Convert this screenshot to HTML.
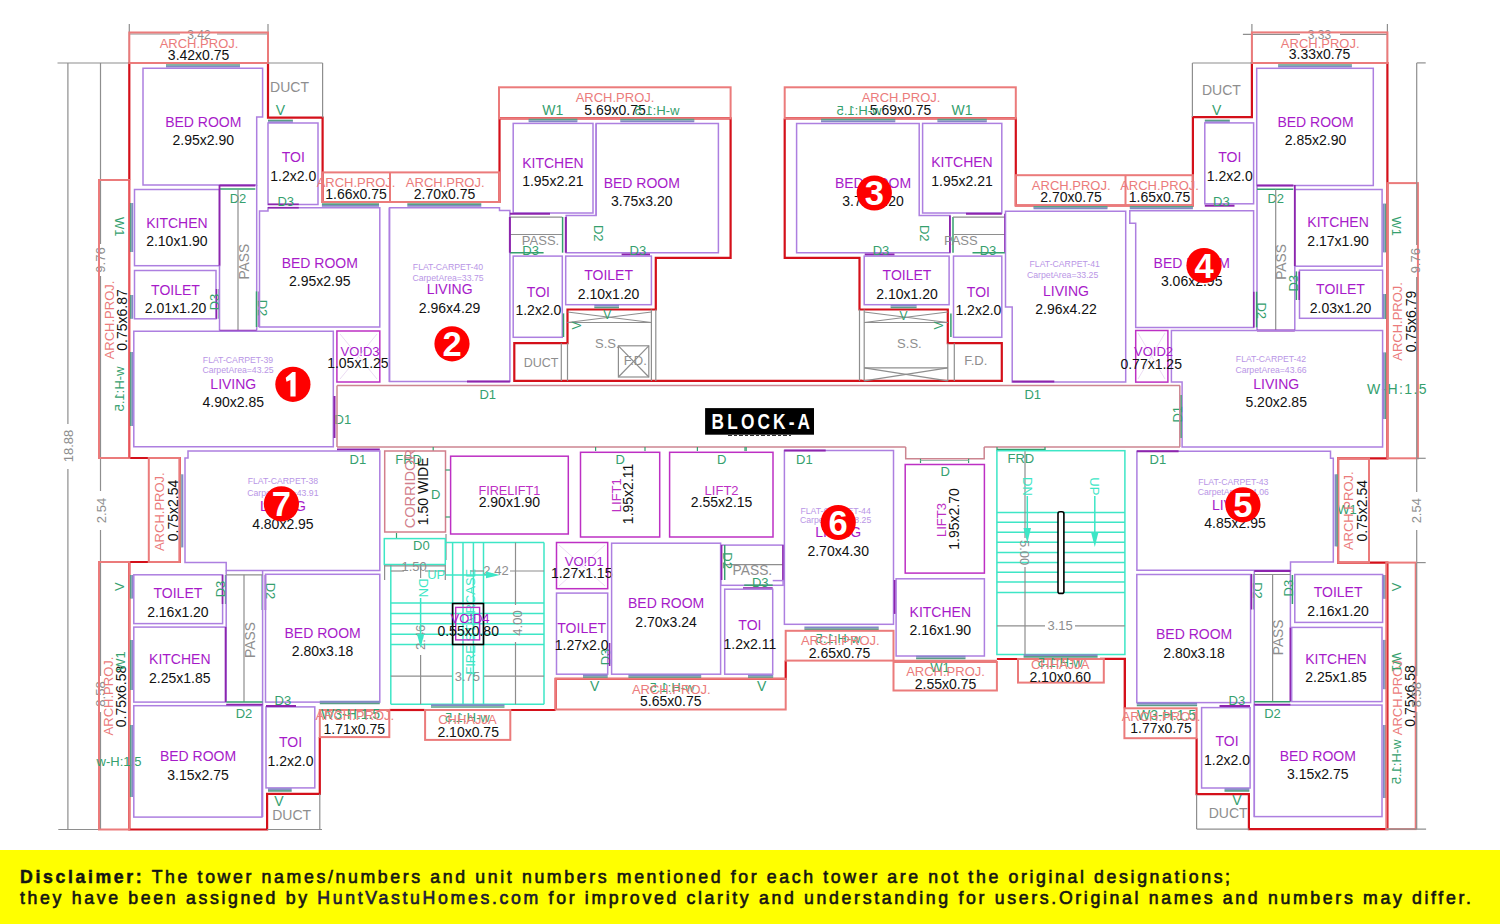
<!DOCTYPE html>
<html><head><meta charset="utf-8"><style>
html,body{margin:0;padding:0;background:#fff;}
body{width:1500px;height:924px;overflow:hidden;position:relative;font-family:"Liberation Sans",sans-serif;}
svg{position:absolute;left:0;top:0;}
svg text{font-family:"Liberation Sans",sans-serif;}
#disc{position:absolute;left:0;top:850px;width:1500px;height:74px;background:#ffff00;}
#disc p{margin:0;position:absolute;left:20px;font-size:17.7px;line-height:20px;color:#141414;white-space:nowrap;letter-spacing:2.64px;font-weight:normal;-webkit-text-stroke:0.6px #141414;}
</style></head><body>
<svg width="1500" height="850" viewBox="0 0 1500 850">
<polyline points="322.6,172.4 322.6,117.6 268.0,117.6 268.0,63.0 129.3,63.0 129.3,180.0" fill="none" stroke="#d4101a" stroke-width="2.2" stroke-linejoin="miter"/>
<polyline points="129.3,458.0 179.8,458.0 179.8,562.0 129.3,562.0 129.3,829.5 267.1,829.5 267.1,793.8 319.8,793.8 319.8,737.1" fill="none" stroke="#d4101a" stroke-width="2.2" stroke-linejoin="miter"/>
<line x1="389.3" y1="710.0" x2="400.0" y2="710.0" stroke="#d4101a" stroke-width="2.2"/>
<polyline points="322.6,172.4 322.6,202.0 499.5,202.0 499.5,118.4 730.6,118.4 730.6,257.9 655.8,257.9 655.8,309.5 567.5,309.5 567.5,343.2 514.3,343.2 514.3,380.9 862.0,380.9" fill="none" stroke="#d4101a" stroke-width="2.2" stroke-linejoin="miter"/>
<polyline points="784.7,118.4 1015.8,118.4 1015.8,205.5 1192.9,205.5 1192.9,117.1 1251.9,117.1 1251.9,63.0 1387.4,63.0 1387.4,458.3 1338.1,458.3 1338.1,562.6 1387.4,562.6 1387.4,829.1 1248.9,829.1 1248.9,794.2 1196.6,794.2 1196.6,738.2" fill="none" stroke="#d4101a" stroke-width="2.2" stroke-linejoin="miter"/>
<polyline points="784.7,118.4 784.7,257.9 859.5,257.9 859.5,309.5 947.8,309.5 947.8,343.2 1001.8,343.2 1001.8,380.9 860.0,380.9" fill="none" stroke="#d4101a" stroke-width="2.2" stroke-linejoin="miter"/>
<polyline points="1100.0,658.8 1124.9,658.8 1124.9,708.3" fill="none" stroke="#d4101a" stroke-width="2.2" stroke-linejoin="miter"/>
<line x1="400.0" y1="710.0" x2="424.5" y2="710.0" stroke="#d4101a" stroke-width="2.2"/>
<line x1="510.3" y1="710.0" x2="555.7" y2="710.0" stroke="#d4101a" stroke-width="2.2"/>
<polyline points="555.7,710.0 555.7,678.8 785.7,678.8 785.7,660.6" fill="none" stroke="#d4101a" stroke-width="2.2" stroke-linejoin="miter"/>
<line x1="996.9" y1="659.0" x2="1124.9" y2="659.0" stroke="#d4101a" stroke-width="2.2"/>
<line x1="1124.9" y1="659.0" x2="1124.9" y2="708.3" stroke="#d4101a" stroke-width="2.2"/>
<line x1="129.3" y1="24.0" x2="129.3" y2="63.0" stroke="#8e8e8e" stroke-width="1.2"/>
<line x1="268.0" y1="24.0" x2="268.0" y2="63.0" stroke="#8e8e8e" stroke-width="1.2"/>
<line x1="129.3" y1="34.0" x2="180.0" y2="34.0" stroke="#8e8e8e" stroke-width="1.2"/>
<line x1="217.0" y1="34.0" x2="268.0" y2="34.0" stroke="#8e8e8e" stroke-width="1.2"/>
<text x="199.0" y="38.5" fill="#8e8e8e" font-size="12" text-anchor="middle" font-weight="normal">3.42</text>
<line x1="57.5" y1="63.0" x2="129.3" y2="63.0" stroke="#8e8e8e" stroke-width="1.2"/>
<line x1="67.9" y1="63.0" x2="67.9" y2="424.0" stroke="#8e8e8e" stroke-width="1.2"/>
<line x1="67.9" y1="469.0" x2="67.9" y2="829.5" stroke="#8e8e8e" stroke-width="1.2"/>
<text x="72.5" y="446.0" fill="#8e8e8e" font-size="13" text-anchor="middle" font-weight="normal" transform="rotate(-90 72.5 446.0)">18.88</text>
<line x1="100.5" y1="63.0" x2="100.5" y2="244.0" stroke="#8e8e8e" stroke-width="1.2"/>
<line x1="100.5" y1="276.0" x2="100.5" y2="491.0" stroke="#8e8e8e" stroke-width="1.2"/>
<line x1="100.5" y1="530.0" x2="100.5" y2="676.0" stroke="#8e8e8e" stroke-width="1.2"/>
<line x1="100.5" y1="712.0" x2="100.5" y2="829.5" stroke="#8e8e8e" stroke-width="1.2"/>
<text x="105.0" y="260.0" fill="#8e8e8e" font-size="13" text-anchor="middle" font-weight="normal" transform="rotate(-90 105.0 260.0)">9.76</text>
<text x="105.5" y="510.5" fill="#8e8e8e" font-size="13" text-anchor="middle" font-weight="normal" transform="rotate(-90 105.5 510.5)">2.54</text>
<text x="105.0" y="694.0" fill="#8e8e8e" font-size="13" text-anchor="middle" font-weight="normal" transform="rotate(-90 105.0 694.0)">8.58</text>
<line x1="58.3" y1="829.5" x2="129.3" y2="829.5" stroke="#8e8e8e" stroke-width="1.2"/>
<rect x="99.0" y="180.0" width="30.3" height="278.0" fill="none" stroke="#eb7b7b" stroke-width="2"/>
<rect x="99.0" y="562.0" width="30.3" height="267.5" fill="none" stroke="#eb7b7b" stroke-width="2"/>
<text x="114.2" y="320.0" fill="#eb7b7b" font-size="13" text-anchor="middle" font-weight="normal" transform="rotate(-90 114.2 320.0)">ARCH.PROJ.</text>
<text x="127.2" y="320.0" fill="#111111" font-size="14" text-anchor="middle" font-weight="normal" transform="rotate(-90 127.2 320.0)">0.75x6.87</text>
<text x="114.5" y="226.7" fill="#35a06e" font-size="13" text-anchor="middle" font-weight="normal" transform="rotate(90 114.5 226.7)">W1</text>
<text transform="translate(119.3 389.0) scale(-1 1) rotate(90)" x="0" y="4.7" fill="#35a06e" font-size="13" text-anchor="middle">w-H:1.5</text>
<text x="113.0" y="696.0" fill="#eb7b7b" font-size="13" text-anchor="middle" font-weight="normal" transform="rotate(-90 113.0 696.0)">ARCH.PROJ.</text>
<text x="126.3" y="696.5" fill="#111111" font-size="14" text-anchor="middle" font-weight="normal" transform="rotate(-90 126.3 696.5)">0.75x6.58</text>
<text x="124.5" y="661.0" fill="#35a06e" font-size="13" text-anchor="middle" font-weight="normal" transform="rotate(-90 124.5 661.0)">W1</text>
<text x="119.0" y="766.0" fill="#35a06e" font-size="13" text-anchor="middle" font-weight="normal">w-H:1.5</text>
<text x="123.6" y="586.7" fill="#35a06e" font-size="13" text-anchor="middle" font-weight="normal" transform="rotate(-90 123.6 586.7)">V</text>
<rect x="129.3" y="32.5" width="138.7" height="30.5" fill="none" stroke="#eb7b7b" stroke-width="2"/>
<text x="199.0" y="48.0" fill="#eb7b7b" font-size="13" text-anchor="middle" font-weight="normal">ARCH.PROJ.</text>
<text x="198.6" y="60.0" fill="#111111" font-size="14" text-anchor="middle" font-weight="normal">3.42x0.75</text>
<polyline points="129.3,180.0 129.3,458.0" fill="none" stroke="#e8545a" stroke-width="2" stroke-linejoin="miter"/>
<line x1="268.0" y1="63.0" x2="322.6" y2="63.0" stroke="#8e8e8e" stroke-width="1.2"/>
<line x1="322.6" y1="63.0" x2="322.6" y2="117.6" stroke="#8e8e8e" stroke-width="1.2"/>
<text x="289.5" y="91.7" fill="#8e8e8e" font-size="14" text-anchor="middle" font-weight="normal">DUCT</text>
<text x="280.4" y="115.0" fill="#35a06e" font-size="14" text-anchor="middle" font-weight="normal">V</text>
<line x1="166.0" y1="65.0" x2="240.0" y2="65.0" stroke="#5a9f86" stroke-width="1.7"/>
<line x1="166.0" y1="66.6" x2="240.0" y2="66.6" stroke="#8489c6" stroke-width="1.7"/>
<line x1="130.8" y1="203.0" x2="130.8" y2="252.0" stroke="#5a9f86" stroke-width="1.7"/>
<line x1="132.4" y1="203.0" x2="132.4" y2="252.0" stroke="#8489c6" stroke-width="1.7"/>
<line x1="130.8" y1="295.0" x2="130.8" y2="318.8" stroke="#5a9f86" stroke-width="1.7"/>
<line x1="132.4" y1="295.0" x2="132.4" y2="318.8" stroke="#8489c6" stroke-width="1.7"/>
<line x1="130.8" y1="352.0" x2="130.8" y2="426.0" stroke="#5a9f86" stroke-width="1.7"/>
<line x1="132.4" y1="352.0" x2="132.4" y2="426.0" stroke="#8489c6" stroke-width="1.7"/>
<line x1="180.8" y1="474.3" x2="180.8" y2="547.4" stroke="#5a9f86" stroke-width="1.7"/>
<line x1="182.5" y1="474.3" x2="182.5" y2="547.4" stroke="#8489c6" stroke-width="1.7"/>
<line x1="130.8" y1="575.0" x2="130.8" y2="598.6" stroke="#5a9f86" stroke-width="1.7"/>
<line x1="132.4" y1="575.0" x2="132.4" y2="598.6" stroke="#8489c6" stroke-width="1.7"/>
<line x1="130.8" y1="640.0" x2="130.8" y2="690.0" stroke="#5a9f86" stroke-width="1.7"/>
<line x1="132.4" y1="640.0" x2="132.4" y2="690.0" stroke="#8489c6" stroke-width="1.7"/>
<line x1="130.8" y1="725.0" x2="130.8" y2="797.0" stroke="#5a9f86" stroke-width="1.7"/>
<line x1="132.4" y1="725.0" x2="132.4" y2="797.0" stroke="#8489c6" stroke-width="1.7"/>
<line x1="268.0" y1="120.5" x2="292.9" y2="120.5" stroke="#5a9f86" stroke-width="1.7"/>
<line x1="268.0" y1="122.1" x2="292.9" y2="122.1" stroke="#8489c6" stroke-width="1.7"/>
<line x1="321.9" y1="204.2" x2="379.0" y2="204.2" stroke="#5a9f86" stroke-width="1.7"/>
<line x1="321.9" y1="205.8" x2="379.0" y2="205.8" stroke="#8489c6" stroke-width="1.7"/>
<line x1="407.3" y1="204.2" x2="481.3" y2="204.2" stroke="#5a9f86" stroke-width="1.7"/>
<line x1="407.3" y1="205.8" x2="481.3" y2="205.8" stroke="#8489c6" stroke-width="1.7"/>
<polygon points="143.0,68.3 262.6,68.3 262.6,117.0 256.7,117.0 256.7,185.0 143.0,185.0" fill="none" stroke="#ad7fe0" stroke-width="1.5" stroke-linejoin="miter"/>
<line x1="219.5" y1="185.6" x2="255.3" y2="185.6" stroke="#8d25ad" stroke-width="2"/>
<line x1="219.5" y1="189.0" x2="255.3" y2="189.0" stroke="#35a06e" stroke-width="1.5"/>
<text x="238.0" y="203.0" fill="#35a06e" font-size="13" text-anchor="middle" font-weight="normal">D2</text>
<text x="203.3" y="126.7" fill="#a71bc9" font-size="14" text-anchor="middle" font-weight="normal">BED ROOM</text>
<text x="203.3" y="145.2" fill="#111111" font-size="14" text-anchor="middle" font-weight="normal">2.95x2.90</text>
<rect x="134.5" y="189.5" width="85.0" height="76.2" fill="none" stroke="#ad7fe0" stroke-width="1.5"/>
<line x1="219.5" y1="185.0" x2="219.5" y2="265.7" stroke="#8d25ad" stroke-width="1.8"/>
<text x="176.9" y="227.5" fill="#a71bc9" font-size="14" text-anchor="middle" font-weight="normal">KITCHEN</text>
<text x="176.9" y="246.0" fill="#111111" font-size="14" text-anchor="middle" font-weight="normal">2.10x1.90</text>
<rect x="134.5" y="270.5" width="81.5" height="48.3" fill="none" stroke="#ad7fe0" stroke-width="1.5"/>
<text x="175.5" y="294.5" fill="#a71bc9" font-size="14" text-anchor="middle" font-weight="normal">TOILET</text>
<text x="175.5" y="313.0" fill="#111111" font-size="14" text-anchor="middle" font-weight="normal">2.01x1.20</text>
<line x1="219.2" y1="289.0" x2="219.2" y2="318.8" stroke="#35a06e" stroke-width="1.5"/>
<line x1="216.5" y1="289.0" x2="216.5" y2="318.8" stroke="#8d25ad" stroke-width="1.6"/>
<text x="219.0" y="302.0" fill="#35a06e" font-size="13" text-anchor="middle" font-weight="normal" transform="rotate(-90 219.0 302.0)">D3</text>
<line x1="219.5" y1="265.7" x2="219.5" y2="330.7" stroke="#ad7fe0" stroke-width="1.5"/>
<line x1="256.7" y1="185.0" x2="256.7" y2="330.7" stroke="#ad7fe0" stroke-width="1.5"/>
<line x1="238.0" y1="189.5" x2="238.0" y2="330.7" stroke="#8e8e8e" stroke-width="1.2"/>
<text x="248.7" y="261.7" fill="#8e8e8e" font-size="13.8" text-anchor="middle" font-weight="normal" transform="rotate(-90 248.7 261.7)">PASS</text>
<line x1="219.5" y1="330.7" x2="256.7" y2="330.7" stroke="#8d25ad" stroke-width="2"/>
<line x1="256.5" y1="291.4" x2="256.5" y2="327.0" stroke="#35a06e" stroke-width="1.5"/>
<line x1="259.2" y1="291.4" x2="259.2" y2="327.0" stroke="#8d25ad" stroke-width="1.6"/>
<text x="257.9" y="308.0" fill="#35a06e" font-size="13" text-anchor="middle" font-weight="normal" transform="rotate(90 257.9 308.0)">D2</text>
<polygon points="259.5,210.9 268.0,210.9 268.0,207.7 379.8,207.7 379.8,327.0 259.5,327.0" fill="none" stroke="#ad7fe0" stroke-width="1.5" stroke-linejoin="miter"/>
<text x="319.8" y="267.6" fill="#a71bc9" font-size="14" text-anchor="middle" font-weight="normal">BED ROOM</text>
<text x="319.8" y="286.1" fill="#111111" font-size="14" text-anchor="middle" font-weight="normal">2.95x2.95</text>
<rect x="268.0" y="123.0" width="50.0" height="81.5" fill="none" stroke="#ad7fe0" stroke-width="1.5"/>
<text x="293.3" y="162.4" fill="#a71bc9" font-size="14" text-anchor="middle" font-weight="normal">TOI</text>
<text x="293.3" y="180.9" fill="#111111" font-size="14" text-anchor="middle" font-weight="normal">1.2x2.0</text>
<line x1="268.0" y1="204.3" x2="298.8" y2="204.3" stroke="#8d25ad" stroke-width="1.6"/>
<line x1="268.0" y1="207.7" x2="298.8" y2="207.7" stroke="#8d25ad" stroke-width="1.6"/>
<text x="285.7" y="206.2" fill="#35a06e" font-size="13" text-anchor="middle" font-weight="normal">D3</text>
<polygon points="133.8,331.2 333.3,331.2 333.3,446.7 133.8,446.7" fill="none" stroke="#ad7fe0" stroke-width="1.5" stroke-linejoin="miter"/>
<text x="238.0" y="362.9" fill="#b996e6" font-size="8.7" text-anchor="middle" font-weight="normal">FLAT-CARPET-39</text>
<text x="238.0" y="373.0" fill="#b996e6" font-size="8.7" text-anchor="middle" font-weight="normal">CarpetArea=43.25</text>
<text x="233.3" y="388.6" fill="#a71bc9" font-size="14" text-anchor="middle" font-weight="normal">LIVING</text>
<text x="233.3" y="407.1" fill="#111111" font-size="14" text-anchor="middle" font-weight="normal">4.90x2.85</text>
<rect x="336.9" y="331.0" width="42.9" height="51.0" fill="none" stroke="#bd30c4" stroke-width="1.5"/>
<line x1="340.0" y1="334.0" x2="377.0" y2="379.0" stroke="#e6d2f0" stroke-width="0.8"/>
<line x1="377.0" y1="334.0" x2="340.0" y2="379.0" stroke="#e6d2f0" stroke-width="0.8"/>
<text x="360.0" y="355.7" fill="#a71bc9" font-size="13" text-anchor="middle" font-weight="normal">VO!D3</text>
<text x="357.9" y="368.3" fill="#111111" font-size="14" text-anchor="middle" font-weight="normal">1.05x1.25</text>
<line x1="389.3" y1="207.6" x2="389.3" y2="382.0" stroke="#ad7fe0" stroke-width="1.5"/>
<line x1="334.5" y1="396.0" x2="334.5" y2="438.0" stroke="#8d25ad" stroke-width="2"/>
<text x="342.9" y="423.6" fill="#35a06e" font-size="13" text-anchor="middle" font-weight="normal">D1</text>
<line x1="337.0" y1="449.6" x2="379.8" y2="449.6" stroke="#8d25ad" stroke-width="2"/>
<rect x="148.8" y="458.0" width="31.0" height="104.0" fill="none" stroke="#eb7b7b" stroke-width="2"/>
<text x="163.9" y="511.7" fill="#eb7b7b" font-size="13" text-anchor="middle" font-weight="normal" transform="rotate(-90 163.9 511.7)">ARCH.PROJ.</text>
<text x="177.6" y="510.5" fill="#111111" font-size="14" text-anchor="middle" font-weight="normal" transform="rotate(-90 177.6 510.5)">0.75x2.54</text>
<polygon points="185.0,458.0 188.0,458.0 188.0,451.0 379.8,451.0 379.8,570.5 226.2,570.5 226.2,562.4 185.0,562.4" fill="none" stroke="#ad7fe0" stroke-width="1.5" stroke-linejoin="miter"/>
<text x="282.9" y="484.3" fill="#b996e6" font-size="8.7" text-anchor="middle" font-weight="normal">FLAT-CARPET-38</text>
<text x="282.9" y="495.5" fill="#b996e6" font-size="8.7" text-anchor="middle" font-weight="normal">CarpetArea=43.91</text>
<text x="282.9" y="510.5" fill="#a71bc9" font-size="14" text-anchor="middle" font-weight="normal">LIVING</text>
<text x="282.9" y="529.0" fill="#111111" font-size="14" text-anchor="middle" font-weight="normal">4.80x2.95</text>
<text x="357.9" y="463.6" fill="#35a06e" font-size="13" text-anchor="middle" font-weight="normal">D1</text>
<rect x="133.8" y="574.8" width="88.8" height="48.8" fill="none" stroke="#ad7fe0" stroke-width="1.5"/>
<text x="177.9" y="598.0" fill="#a71bc9" font-size="14" text-anchor="middle" font-weight="normal">TOILET</text>
<text x="177.9" y="616.5" fill="#111111" font-size="14" text-anchor="middle" font-weight="normal">2.16x1.20</text>
<line x1="225.6" y1="575.0" x2="225.6" y2="604.0" stroke="#35a06e" stroke-width="1.5"/>
<line x1="222.5" y1="575.0" x2="222.5" y2="604.0" stroke="#8d25ad" stroke-width="1.6"/>
<text x="224.9" y="589.0" fill="#35a06e" font-size="13" text-anchor="middle" font-weight="normal" transform="rotate(-90 224.9 589.0)">D3</text>
<line x1="262.3" y1="575.0" x2="262.3" y2="610.0" stroke="#35a06e" stroke-width="1.5"/>
<line x1="265.4" y1="575.0" x2="265.4" y2="610.0" stroke="#8d25ad" stroke-width="1.6"/>
<text x="265.5" y="591.0" fill="#35a06e" font-size="13" text-anchor="middle" font-weight="normal" transform="rotate(90 265.5 591.0)">D2</text>
<line x1="226.2" y1="570.5" x2="226.2" y2="702.0" stroke="#ad7fe0" stroke-width="1.5"/>
<line x1="262.6" y1="570.5" x2="262.6" y2="817.0" stroke="#ad7fe0" stroke-width="1.5"/>
<line x1="244.0" y1="574.8" x2="244.0" y2="702.0" stroke="#8e8e8e" stroke-width="1.2"/>
<line x1="226.2" y1="574.8" x2="262.6" y2="574.8" stroke="#8e8e8e" stroke-width="1.2"/>
<text x="254.7" y="640.0" fill="#8e8e8e" font-size="13.8" text-anchor="middle" font-weight="normal" transform="rotate(-90 254.7 640.0)">PASS</text>
<rect x="265.5" y="574.3" width="114.3" height="127.8" fill="none" stroke="#ad7fe0" stroke-width="1.5"/>
<text x="322.6" y="637.9" fill="#a71bc9" font-size="14" text-anchor="middle" font-weight="normal">BED ROOM</text>
<text x="322.6" y="656.4" fill="#111111" font-size="14" text-anchor="middle" font-weight="normal">2.80x3.18</text>
<rect x="133.8" y="627.1" width="91.7" height="75.0" fill="none" stroke="#ad7fe0" stroke-width="1.5"/>
<text x="179.8" y="664.0" fill="#a71bc9" font-size="14" text-anchor="middle" font-weight="normal">KITCHEN</text>
<text x="179.8" y="682.5" fill="#111111" font-size="14" text-anchor="middle" font-weight="normal">2.25x1.85</text>
<rect x="133.8" y="705.7" width="128.1" height="111.4" fill="none" stroke="#ad7fe0" stroke-width="1.5"/>
<text x="198.0" y="761.0" fill="#a71bc9" font-size="14" text-anchor="middle" font-weight="normal">BED ROOM</text>
<text x="198.0" y="779.5" fill="#111111" font-size="14" text-anchor="middle" font-weight="normal">3.15x2.75</text>
<line x1="226.2" y1="702.0" x2="262.6" y2="702.0" stroke="#35a06e" stroke-width="1.5"/>
<line x1="226.2" y1="704.6" x2="262.6" y2="704.6" stroke="#8d25ad" stroke-width="1.6"/>
<line x1="225.6" y1="627.0" x2="225.6" y2="702.0" stroke="#8d25ad" stroke-width="1.6"/>
<text x="244.0" y="717.6" fill="#35a06e" font-size="13" text-anchor="middle" font-weight="normal">D2</text>
<rect x="266.0" y="706.9" width="48.8" height="81.0" fill="none" stroke="#ad7fe0" stroke-width="1.5"/>
<text x="290.5" y="747.4" fill="#a71bc9" font-size="14" text-anchor="middle" font-weight="normal">TOI</text>
<text x="290.5" y="765.9" fill="#111111" font-size="14" text-anchor="middle" font-weight="normal">1.2x2.0</text>
<line x1="266.0" y1="706.0" x2="296.0" y2="706.0" stroke="#8d25ad" stroke-width="2"/>
<text x="282.9" y="704.5" fill="#35a06e" font-size="13" text-anchor="middle" font-weight="normal">D3</text>
<line x1="319.8" y1="703.4" x2="379.8" y2="703.4" stroke="#5a9f86" stroke-width="1.7"/>
<line x1="319.8" y1="701.6" x2="379.8" y2="701.6" stroke="#8489c6" stroke-width="1.7"/>
<line x1="268.0" y1="790.9" x2="291.7" y2="790.9" stroke="#5a9f86" stroke-width="1.7"/>
<line x1="268.0" y1="789.1" x2="291.7" y2="789.1" stroke="#8489c6" stroke-width="1.7"/>
<rect x="319.8" y="710.0" width="69.5" height="27.1" fill="none" stroke="#eb7b7b" stroke-width="2"/>
<text x="350.6" y="719.0" fill="#35a06e" font-size="14" text-anchor="middle" font-weight="normal">W3-H:1.5</text>
<text x="354.8" y="720.0" fill="#eb7b7b" font-size="13" text-anchor="middle" font-weight="normal">ARCH.PROJ.</text>
<text x="354.3" y="734.3" fill="#111111" font-size="14" text-anchor="middle" font-weight="normal">1.71x0.75</text>
<line x1="319.8" y1="793.8" x2="319.8" y2="829.5" stroke="#8e8e8e" stroke-width="1.2"/>
<line x1="267.1" y1="829.5" x2="322.0" y2="829.5" stroke="#8e8e8e" stroke-width="1.2"/>
<text x="279.0" y="805.7" fill="#35a06e" font-size="14" text-anchor="middle" font-weight="normal">V</text>
<text x="291.7" y="819.5" fill="#8e8e8e" font-size="14" text-anchor="middle" font-weight="normal">DUCT</text>
<rect x="322.6" y="172.4" width="176.9" height="29.6" fill="none" stroke="#eb7b7b" stroke-width="2"/>
<line x1="390.0" y1="172.4" x2="390.0" y2="202.0" stroke="#eb7b7b" stroke-width="2"/>
<rect x="499.0" y="87.3" width="231.6" height="31.1" fill="none" stroke="#eb7b7b" stroke-width="2"/>
<text x="356.0" y="186.7" fill="#eb7b7b" font-size="13" text-anchor="middle" font-weight="normal">ARCH.PROJ.</text>
<text x="356.0" y="199.3" fill="#111111" font-size="14" text-anchor="middle" font-weight="normal">1.66x0.75</text>
<text x="445.2" y="186.7" fill="#eb7b7b" font-size="13" text-anchor="middle" font-weight="normal">ARCH.PROJ.</text>
<text x="444.5" y="199.3" fill="#111111" font-size="14" text-anchor="middle" font-weight="normal">2.70x0.75</text>
<text x="615.0" y="102.0" fill="#eb7b7b" font-size="13" text-anchor="middle" font-weight="normal">ARCH.PROJ.</text>
<text x="615.0" y="114.5" fill="#111111" font-size="14" text-anchor="middle" font-weight="normal">5.69x0.75</text>
<text x="552.7" y="114.5" fill="#35a06e" font-size="14" text-anchor="middle" font-weight="normal">W1</text>
<text x="657" y="114.5" fill="#35a06e" font-size="13" text-anchor="middle" transform="translate(1314 0) scale(-1 1)">w-H:1.5</text>
<line x1="528.6" y1="119.7" x2="577.4" y2="119.7" stroke="#5a9f86" stroke-width="1.7"/>
<line x1="528.6" y1="121.3" x2="577.4" y2="121.3" stroke="#8489c6" stroke-width="1.7"/>
<line x1="620.3" y1="119.7" x2="694.3" y2="119.7" stroke="#5a9f86" stroke-width="1.7"/>
<line x1="620.3" y1="121.3" x2="694.3" y2="121.3" stroke="#8489c6" stroke-width="1.7"/>
<rect x="513.2" y="123.4" width="79.8" height="89.6" fill="none" stroke="#ad7fe0" stroke-width="1.5"/>
<line x1="596.1" y1="123.4" x2="596.1" y2="215.6" stroke="#ad7fe0" stroke-width="1.5"/>
<text x="552.9" y="167.6" fill="#a71bc9" font-size="14" text-anchor="middle" font-weight="normal">KITCHEN</text>
<text x="552.9" y="186.1" fill="#111111" font-size="14" text-anchor="middle" font-weight="normal">1.95x2.21</text>
<polygon points="596.1,123.4 718.4,123.4 718.4,252.7 566.2,252.7 566.2,215.6 596.1,215.6" fill="none" stroke="#ad7fe0" stroke-width="1.5" stroke-linejoin="miter"/>
<text x="641.8" y="187.8" fill="#a71bc9" font-size="14" text-anchor="middle" font-weight="normal">BED ROOM</text>
<text x="641.8" y="206.3" fill="#111111" font-size="14" text-anchor="middle" font-weight="normal">3.75x3.20</text>
<text x="593.5" y="233.2" fill="#35a06e" font-size="13" text-anchor="middle" font-weight="normal" transform="rotate(90 593.5 233.2)">D2</text>
<line x1="621.6" y1="254.5" x2="650.0" y2="254.5" stroke="#8d25ad" stroke-width="2"/>
<text x="637.9" y="254.5" fill="#35a06e" font-size="13" text-anchor="middle" font-weight="normal">D3</text>
<rect x="565.7" y="256.1" width="85.7" height="48.6" fill="none" stroke="#ad7fe0" stroke-width="1.5"/>
<text x="608.6" y="280.0" fill="#a71bc9" font-size="14" text-anchor="middle" font-weight="normal">TOILET</text>
<text x="608.6" y="298.5" fill="#111111" font-size="14" text-anchor="middle" font-weight="normal">2.10x1.20</text>
<line x1="594.3" y1="307.4" x2="619.0" y2="307.4" stroke="#5a9f86" stroke-width="1.7"/>
<line x1="594.3" y1="305.6" x2="619.0" y2="305.6" stroke="#8489c6" stroke-width="1.7"/>
<rect x="513.2" y="256.1" width="49.1" height="81.2" fill="none" stroke="#ad7fe0" stroke-width="1.5"/>
<text x="538.4" y="296.9" fill="#a71bc9" font-size="14" text-anchor="middle" font-weight="normal">TOI</text>
<text x="538.4" y="315.4" fill="#111111" font-size="14" text-anchor="middle" font-weight="normal">1.2x2.0</text>
<line x1="563.5" y1="313.4" x2="563.5" y2="337.0" stroke="#35a06e" stroke-width="1.5"/>
<polygon points="389.6,207.8 499.5,207.8 499.5,210.6 509.9,210.6 509.9,381.4 389.6,381.4" fill="none" stroke="#ad7fe0" stroke-width="1.5" stroke-linejoin="miter"/>
<text x="448.0" y="270.4" fill="#b996e6" font-size="8.7" text-anchor="middle" font-weight="normal">FLAT-CARPET-40</text>
<text x="448.0" y="280.5" fill="#b996e6" font-size="8.7" text-anchor="middle" font-weight="normal">CarpetArea=33.75</text>
<text x="449.6" y="294.3" fill="#a71bc9" font-size="14" text-anchor="middle" font-weight="normal">LIVING</text>
<text x="449.6" y="312.8" fill="#111111" font-size="14" text-anchor="middle" font-weight="normal">2.96x4.29</text>
<line x1="467.0" y1="381.4" x2="509.9" y2="381.4" stroke="#8d25ad" stroke-width="2"/>
<text x="487.8" y="398.6" fill="#35a06e" font-size="13" text-anchor="middle" font-weight="normal">D1</text>
<line x1="509.9" y1="213.8" x2="550.0" y2="213.8" stroke="#8d25ad" stroke-width="2"/>
<line x1="509.9" y1="217.1" x2="562.3" y2="217.1" stroke="#8e8e8e" stroke-width="1.2"/>
<line x1="509.9" y1="234.5" x2="562.3" y2="234.5" stroke="#8e8e8e" stroke-width="1.2"/>
<line x1="562.6" y1="217.0" x2="562.6" y2="252.7" stroke="#35a06e" stroke-width="1.5"/>
<text x="540.5" y="245.0" fill="#8e8e8e" font-size="13" text-anchor="middle" font-weight="normal">PASS.</text>
<line x1="509.9" y1="252.7" x2="543.6" y2="252.7" stroke="#35a06e" stroke-width="1.5"/>
<text x="530.6" y="254.5" fill="#35a06e" font-size="13" text-anchor="middle" font-weight="normal">D3</text>
<text x="541.0" y="366.6" fill="#8e8e8e" font-size="12.5" text-anchor="middle" font-weight="normal">DUCT</text>
<line x1="567.5" y1="343.2" x2="567.5" y2="380.9" stroke="#8e8e8e" stroke-width="1.2"/>
<line x1="509.9" y1="217.0" x2="509.9" y2="252.7" stroke="#8d25ad" stroke-width="2"/>
<line x1="565.8" y1="217.0" x2="565.8" y2="252.7" stroke="#8d25ad" stroke-width="2"/>
<line x1="561.3" y1="343.2" x2="561.3" y2="380.9" stroke="#8e8e8e" stroke-width="1.2"/>
<line x1="651.4" y1="309.5" x2="651.4" y2="380.9" stroke="#8e8e8e" stroke-width="1.2"/>
<line x1="655.8" y1="309.5" x2="655.8" y2="380.9" stroke="#8e8e8e" stroke-width="1.2"/>
<line x1="567.5" y1="312.0" x2="651.4" y2="322.5" stroke="#8e8e8e" stroke-width="1.2"/>
<line x1="567.5" y1="322.5" x2="651.4" y2="312.0" stroke="#8e8e8e" stroke-width="1.2"/>
<line x1="567.5" y1="322.5" x2="651.4" y2="322.5" stroke="#8e8e8e" stroke-width="1.2"/>
<text x="607.3" y="348.4" fill="#8e8e8e" font-size="13" text-anchor="middle" font-weight="normal">S.S.</text>
<rect x="618.4" y="345.8" width="30.4" height="31.2" fill="none" stroke="#8e8e8e" stroke-width="1.2"/>
<line x1="618.4" y1="345.8" x2="648.8" y2="377.0" stroke="#8e8e8e" stroke-width="1.2"/>
<line x1="648.8" y1="345.8" x2="618.4" y2="377.0" stroke="#8e8e8e" stroke-width="1.2"/>
<text x="635.3" y="365.3" fill="#8e8e8e" font-size="13" text-anchor="middle" font-weight="normal">F.D.</text>
<text x="581.3" y="325.5" fill="#35a06e" font-size="12" text-anchor="middle" font-weight="normal" transform="rotate(-90 581.3 325.5)">V</text>
<text x="607.3" y="319.0" fill="#35a06e" font-size="12" text-anchor="middle" font-weight="normal">V</text>
<line x1="337.0" y1="385.6" x2="1180.0" y2="385.6" stroke="#cc8590" stroke-width="1.5"/>
<line x1="337.0" y1="447.1" x2="1180.0" y2="447.1" stroke="#cc8590" stroke-width="1.5"/>
<line x1="433.2" y1="447.1" x2="433.2" y2="451.0" stroke="#35a06e" stroke-width="1.2"/>
<line x1="595.6" y1="447.1" x2="595.6" y2="451.0" stroke="#35a06e" stroke-width="1.2"/>
<line x1="645.0" y1="447.1" x2="645.0" y2="451.0" stroke="#35a06e" stroke-width="1.2"/>
<line x1="697.4" y1="447.1" x2="697.4" y2="451.0" stroke="#35a06e" stroke-width="1.2"/>
<line x1="746.2" y1="447.1" x2="746.2" y2="451.0" stroke="#35a06e" stroke-width="1.2"/>
<rect x="384.7" y="451.0" width="60.8" height="81.0" fill="none" stroke="#d27f8c" stroke-width="1.5"/>
<text x="408.6" y="463.5" fill="#35a06e" font-size="13" text-anchor="middle" font-weight="normal">FRD</text>
<text x="415.5" y="488.7" fill="#d27f8c" font-size="14.5" text-anchor="middle" font-weight="normal" transform="rotate(-90 415.5 488.7)">CORRIDOR</text>
<text x="428.0" y="491.3" fill="#111111" font-size="14" text-anchor="middle" font-weight="normal" transform="rotate(-90 428.0 491.3)">1.50 WIDE</text>
<text x="435.8" y="499.1" fill="#35a06e" font-size="13" text-anchor="middle" font-weight="normal">D</text>
<line x1="445.5" y1="470.0" x2="450.0" y2="470.0" stroke="#35a06e" stroke-width="1.2"/>
<line x1="445.5" y1="517.0" x2="450.0" y2="517.0" stroke="#35a06e" stroke-width="1.2"/>
<line x1="396.5" y1="533.0" x2="396.5" y2="539.0" stroke="#35a06e" stroke-width="1.2"/>
<line x1="446.0" y1="534.0" x2="446.0" y2="560.0" stroke="#8e8e8e" stroke-width="1.2"/>
<rect x="450.6" y="456.2" width="117.7" height="77.8" fill="none" stroke="#bd30c4" stroke-width="1.5"/>
<text x="509.4" y="495.2" fill="#bd30c4" font-size="12.7" text-anchor="middle" font-weight="normal">FIRELIFT1</text>
<text x="509.4" y="506.9" fill="#111111" font-size="14" text-anchor="middle" font-weight="normal">2.90x1.90</text>
<rect x="580.5" y="452.3" width="79.2" height="84.7" fill="none" stroke="#bd30c4" stroke-width="1.5"/>
<text x="620.3" y="464.0" fill="#35a06e" font-size="13" text-anchor="middle" font-weight="normal">D</text>
<text x="620.6" y="495.2" fill="#bd30c4" font-size="13" text-anchor="middle" font-weight="normal" transform="rotate(-90 620.6 495.2)">LIFT1</text>
<text x="633.0" y="493.9" fill="#111111" font-size="14" text-anchor="middle" font-weight="normal" transform="rotate(-90 633.0 493.9)">1.95x2.11</text>
<rect x="669.6" y="452.3" width="103.4" height="84.7" fill="none" stroke="#bd30c4" stroke-width="1.5"/>
<text x="721.6" y="464.0" fill="#35a06e" font-size="13" text-anchor="middle" font-weight="normal">D</text>
<text x="721.6" y="495.2" fill="#bd30c4" font-size="13" text-anchor="middle" font-weight="normal">LIFT2</text>
<text x="721.6" y="506.9" fill="#111111" font-size="14" text-anchor="middle" font-weight="normal">2.55x2.15</text>
<rect x="784.7" y="87.3" width="231.1" height="31.1" fill="none" stroke="#eb7b7b" stroke-width="2"/>
<text x="901.0" y="102.1" fill="#eb7b7b" font-size="13" text-anchor="middle" font-weight="normal">ARCH.PROJ.</text>
<text x="900.5" y="114.5" fill="#111111" font-size="14" text-anchor="middle" font-weight="normal">5.69x0.75</text>
<text x="962.0" y="114.5" fill="#35a06e" font-size="14" text-anchor="middle" font-weight="normal">W1</text>
<text x="859" y="114.5" fill="#35a06e" font-size="13" text-anchor="middle" transform="translate(1718 0) scale(-1 1)">w-H:1.5</text>
<line x1="821.0" y1="119.7" x2="895.3" y2="119.7" stroke="#5a9f86" stroke-width="1.7"/>
<line x1="821.0" y1="121.3" x2="895.3" y2="121.3" stroke="#8489c6" stroke-width="1.7"/>
<line x1="937.4" y1="119.7" x2="986.8" y2="119.7" stroke="#5a9f86" stroke-width="1.7"/>
<line x1="937.4" y1="121.3" x2="986.8" y2="121.3" stroke="#8489c6" stroke-width="1.7"/>
<polygon points="796.6,123.4 919.2,123.4 919.2,215.6 949.9,215.6 949.9,252.7 796.6,252.7" fill="none" stroke="#ad7fe0" stroke-width="1.5" stroke-linejoin="miter"/>
<text x="873.0" y="187.8" fill="#a71bc9" font-size="14" text-anchor="middle" font-weight="normal">BED ROOM</text>
<text x="873.0" y="206.3" fill="#111111" font-size="14" text-anchor="middle" font-weight="normal">3.75x3.20</text>
<rect x="922.6" y="123.4" width="79.2" height="89.6" fill="none" stroke="#ad7fe0" stroke-width="1.5"/>
<text x="962.0" y="167.0" fill="#a71bc9" font-size="14" text-anchor="middle" font-weight="normal">KITCHEN</text>
<text x="962.0" y="185.5" fill="#111111" font-size="14" text-anchor="middle" font-weight="normal">1.95x2.21</text>
<text x="920.3" y="233.2" fill="#35a06e" font-size="13" text-anchor="middle" font-weight="normal" transform="rotate(90 920.3 233.2)">D2</text>
<line x1="864.7" y1="254.5" x2="894.5" y2="254.5" stroke="#8d25ad" stroke-width="2"/>
<text x="881.0" y="254.5" fill="#35a06e" font-size="13" text-anchor="middle" font-weight="normal">D3</text>
<line x1="949.9" y1="215.6" x2="949.9" y2="252.7" stroke="#8d25ad" stroke-width="1.8"/>
<line x1="953.0" y1="217.0" x2="953.0" y2="252.7" stroke="#35a06e" stroke-width="1.5"/>
<line x1="966.0" y1="213.8" x2="1001.8" y2="213.8" stroke="#8d25ad" stroke-width="2"/>
<line x1="953.0" y1="217.1" x2="1005.0" y2="217.1" stroke="#8e8e8e" stroke-width="1.2"/>
<line x1="953.0" y1="234.5" x2="1005.0" y2="234.5" stroke="#8e8e8e" stroke-width="1.2"/>
<line x1="1005.0" y1="213.8" x2="1005.0" y2="252.7" stroke="#8d25ad" stroke-width="1.8"/>
<text x="960.8" y="245.0" fill="#8e8e8e" font-size="13" text-anchor="middle" font-weight="normal">PASS</text>
<line x1="972.5" y1="252.7" x2="1005.0" y2="252.7" stroke="#35a06e" stroke-width="1.5"/>
<text x="988.0" y="254.5" fill="#35a06e" font-size="13" text-anchor="middle" font-weight="normal">D3</text>
<rect x="864.2" y="256.1" width="84.9" height="48.6" fill="none" stroke="#ad7fe0" stroke-width="1.5"/>
<text x="907.0" y="280.0" fill="#a71bc9" font-size="14" text-anchor="middle" font-weight="normal">TOILET</text>
<text x="907.0" y="298.5" fill="#111111" font-size="14" text-anchor="middle" font-weight="normal">2.10x1.20</text>
<line x1="890.6" y1="307.4" x2="916.6" y2="307.4" stroke="#5a9f86" stroke-width="1.7"/>
<line x1="890.6" y1="305.6" x2="916.6" y2="305.6" stroke="#8489c6" stroke-width="1.7"/>
<rect x="953.5" y="256.1" width="48.3" height="81.2" fill="none" stroke="#ad7fe0" stroke-width="1.5"/>
<text x="978.4" y="296.9" fill="#a71bc9" font-size="14" text-anchor="middle" font-weight="normal">TOI</text>
<text x="978.4" y="315.4" fill="#111111" font-size="14" text-anchor="middle" font-weight="normal">1.2x2.0</text>
<line x1="950.9" y1="313.4" x2="950.9" y2="337.0" stroke="#35a06e" stroke-width="1.5"/>
<line x1="864.2" y1="309.5" x2="864.2" y2="380.9" stroke="#8e8e8e" stroke-width="1.2"/>
<line x1="947.8" y1="343.2" x2="947.8" y2="380.9" stroke="#8e8e8e" stroke-width="1.2"/>
<line x1="954.3" y1="343.2" x2="954.3" y2="380.9" stroke="#8e8e8e" stroke-width="1.2"/>
<line x1="864.2" y1="312.0" x2="947.8" y2="322.5" stroke="#8e8e8e" stroke-width="1.2"/>
<line x1="864.2" y1="322.5" x2="947.8" y2="312.0" stroke="#8e8e8e" stroke-width="1.2"/>
<line x1="864.2" y1="322.5" x2="947.8" y2="322.5" stroke="#8e8e8e" stroke-width="1.2"/>
<line x1="864.2" y1="367.9" x2="947.8" y2="367.9" stroke="#8e8e8e" stroke-width="1.2"/>
<line x1="864.2" y1="367.9" x2="947.8" y2="380.9" stroke="#8e8e8e" stroke-width="1.2"/>
<line x1="864.2" y1="380.9" x2="947.8" y2="367.9" stroke="#8e8e8e" stroke-width="1.2"/>
<text x="909.4" y="348.4" fill="#8e8e8e" font-size="13" text-anchor="middle" font-weight="normal">S.S.</text>
<text x="975.8" y="364.8" fill="#8e8e8e" font-size="13" text-anchor="middle" font-weight="normal">F.D.</text>
<text x="903.6" y="319.9" fill="#35a06e" font-size="12" text-anchor="middle" font-weight="normal">V</text>
<text x="942.8" y="325.5" fill="#35a06e" font-size="12" text-anchor="middle" font-weight="normal" transform="rotate(-90 942.8 325.5)">V</text>
<line x1="859.5" y1="309.5" x2="859.5" y2="380.9" stroke="#8e8e8e" stroke-width="1.2"/>
<polygon points="1005.5,211.2 1125.7,211.2 1125.7,382.1 1012.2,382.1 1012.2,306.9 1005.5,306.9" fill="none" stroke="#ad7fe0" stroke-width="1.5" stroke-linejoin="miter"/>
<text x="1064.7" y="267.0" fill="#b996e6" font-size="8.7" text-anchor="middle" font-weight="normal">FLAT-CARPET-41</text>
<text x="1062.6" y="278.0" fill="#b996e6" font-size="8.7" text-anchor="middle" font-weight="normal">CarpetArea=33.25</text>
<text x="1066.0" y="295.6" fill="#a71bc9" font-size="14" text-anchor="middle" font-weight="normal">LIVING</text>
<text x="1066.0" y="314.1" fill="#111111" font-size="14" text-anchor="middle" font-weight="normal">2.96x4.22</text>
<line x1="1012.2" y1="381.4" x2="1054.3" y2="381.4" stroke="#8d25ad" stroke-width="2"/>
<text x="1032.7" y="398.6" fill="#35a06e" font-size="13" text-anchor="middle" font-weight="normal">D1</text>
<rect x="1015.8" y="175.2" width="177.1" height="30.3" fill="none" stroke="#eb7b7b" stroke-width="2"/>
<line x1="1125.5" y1="175.2" x2="1125.5" y2="205.5" stroke="#eb7b7b" stroke-width="2"/>
<text x="1071.2" y="190.4" fill="#eb7b7b" font-size="13" text-anchor="middle" font-weight="normal">ARCH.PROJ.</text>
<text x="1071.0" y="202.0" fill="#111111" font-size="14" text-anchor="middle" font-weight="normal">2.70x0.75</text>
<text x="1159.5" y="190.2" fill="#eb7b7b" font-size="13" text-anchor="middle" font-weight="normal">ARCH.PROJ.</text>
<text x="1159.5" y="202.1" fill="#111111" font-size="14" text-anchor="middle" font-weight="normal">1.65x0.75</text>
<line x1="1033.5" y1="206.8" x2="1107.5" y2="206.8" stroke="#5a9f86" stroke-width="1.7"/>
<line x1="1033.5" y1="208.4" x2="1107.5" y2="208.4" stroke="#8489c6" stroke-width="1.7"/>
<line x1="1129.8" y1="206.8" x2="1192.9" y2="206.8" stroke="#5a9f86" stroke-width="1.7"/>
<line x1="1129.8" y1="208.4" x2="1192.9" y2="208.4" stroke="#8489c6" stroke-width="1.7"/>
<line x1="1251.9" y1="24.0" x2="1251.9" y2="63.0" stroke="#8e8e8e" stroke-width="1.2"/>
<line x1="1387.4" y1="24.0" x2="1387.4" y2="63.0" stroke="#8e8e8e" stroke-width="1.2"/>
<line x1="1242.9" y1="34.3" x2="1300.0" y2="34.3" stroke="#8e8e8e" stroke-width="1.2"/>
<line x1="1340.0" y1="34.3" x2="1387.4" y2="34.3" stroke="#8e8e8e" stroke-width="1.2"/>
<text x="1319.5" y="38.5" fill="#8e8e8e" font-size="12" text-anchor="middle" font-weight="normal">3.33</text>
<rect x="1251.9" y="32.4" width="135.5" height="30.6" fill="none" stroke="#eb7b7b" stroke-width="2"/>
<text x="1320.2" y="48.1" fill="#eb7b7b" font-size="13" text-anchor="middle" font-weight="normal">ARCH.PROJ.</text>
<text x="1319.5" y="59.3" fill="#111111" font-size="14" text-anchor="middle" font-weight="normal">3.33x0.75</text>
<line x1="1192.4" y1="63.0" x2="1251.9" y2="63.0" stroke="#8e8e8e" stroke-width="1.2"/>
<line x1="1192.4" y1="63.0" x2="1192.4" y2="117.0" stroke="#8e8e8e" stroke-width="1.2"/>
<text x="1221.4" y="95.0" fill="#8e8e8e" font-size="14" text-anchor="middle" font-weight="normal">DUCT</text>
<text x="1216.7" y="114.8" fill="#35a06e" font-size="14" text-anchor="middle" font-weight="normal">V</text>
<line x1="1204.8" y1="120.5" x2="1229.8" y2="120.5" stroke="#5a9f86" stroke-width="1.7"/>
<line x1="1204.8" y1="122.1" x2="1229.8" y2="122.1" stroke="#8489c6" stroke-width="1.7"/>
<line x1="1278.1" y1="65.0" x2="1351.9" y2="65.0" stroke="#5a9f86" stroke-width="1.7"/>
<line x1="1278.1" y1="66.6" x2="1351.9" y2="66.6" stroke="#8489c6" stroke-width="1.7"/>
<rect x="1256.7" y="68.3" width="116.6" height="117.2" fill="none" stroke="#ad7fe0" stroke-width="1.5"/>
<text x="1315.5" y="126.7" fill="#a71bc9" font-size="14" text-anchor="middle" font-weight="normal">BED ROOM</text>
<text x="1315.5" y="145.2" fill="#111111" font-size="14" text-anchor="middle" font-weight="normal">2.85x2.90</text>
<line x1="1257.0" y1="185.5" x2="1257.0" y2="330.5" stroke="#ad7fe0" stroke-width="1.5"/>
<rect x="1204.8" y="122.9" width="48.8" height="80.9" fill="none" stroke="#ad7fe0" stroke-width="1.5"/>
<text x="1229.8" y="162.4" fill="#a71bc9" font-size="14" text-anchor="middle" font-weight="normal">TOI</text>
<text x="1229.8" y="180.9" fill="#111111" font-size="14" text-anchor="middle" font-weight="normal">1.2x2.0</text>
<line x1="1204.8" y1="205.7" x2="1234.5" y2="205.7" stroke="#8d25ad" stroke-width="2"/>
<text x="1221.4" y="206.2" fill="#35a06e" font-size="13" text-anchor="middle" font-weight="normal">D3</text>
<line x1="1257.0" y1="185.6" x2="1293.3" y2="185.6" stroke="#8d25ad" stroke-width="2"/>
<line x1="1257.0" y1="189.3" x2="1293.3" y2="189.3" stroke="#35a06e" stroke-width="1.5"/>
<text x="1275.7" y="202.9" fill="#35a06e" font-size="13" text-anchor="middle" font-weight="normal">D2</text>
<rect x="1294.8" y="189.5" width="87.3" height="76.7" fill="none" stroke="#ad7fe0" stroke-width="1.5"/>
<line x1="1294.8" y1="185.0" x2="1294.8" y2="266.2" stroke="#8d25ad" stroke-width="1.8"/>
<line x1="1294.8" y1="266.2" x2="1294.8" y2="330.5" stroke="#ad7fe0" stroke-width="1.5"/>
<text x="1338.1" y="227.4" fill="#a71bc9" font-size="14" text-anchor="middle" font-weight="normal">KITCHEN</text>
<text x="1338.1" y="245.9" fill="#111111" font-size="14" text-anchor="middle" font-weight="normal">2.17x1.90</text>
<line x1="1275.7" y1="189.5" x2="1275.7" y2="330.5" stroke="#8e8e8e" stroke-width="1.2"/>
<text x="1286.0" y="261.9" fill="#8e8e8e" font-size="13.8" text-anchor="middle" font-weight="normal" transform="rotate(-90 1286.0 261.9)">PASS</text>
<line x1="1257.0" y1="330.5" x2="1294.8" y2="330.5" stroke="#8d25ad" stroke-width="2"/>
<rect x="1299.5" y="270.2" width="83.1" height="48.1" fill="none" stroke="#ad7fe0" stroke-width="1.5"/>
<text x="1340.5" y="294.0" fill="#a71bc9" font-size="14" text-anchor="middle" font-weight="normal">TOILET</text>
<text x="1340.5" y="312.5" fill="#111111" font-size="14" text-anchor="middle" font-weight="normal">2.03x1.20</text>
<text x="1297.6" y="283.3" fill="#35a06e" font-size="13" text-anchor="middle" font-weight="normal" transform="rotate(-90 1297.6 283.3)">D3</text>
<line x1="1296.4" y1="271.4" x2="1296.4" y2="300.0" stroke="#35a06e" stroke-width="1.5"/>
<line x1="1299.2" y1="271.4" x2="1299.2" y2="300.0" stroke="#8d25ad" stroke-width="1.6"/>
<polygon points="1129.8,210.7 1253.6,210.7 1253.6,327.4 1135.7,327.4 1135.7,223.3 1129.8,223.3" fill="none" stroke="#ad7fe0" stroke-width="1.5" stroke-linejoin="miter"/>
<text x="1191.7" y="267.9" fill="#a71bc9" font-size="14" text-anchor="middle" font-weight="normal">BED ROOM</text>
<text x="1191.7" y="286.4" fill="#111111" font-size="14" text-anchor="middle" font-weight="normal">3.06x2.95</text>
<text x="1256.5" y="310.7" fill="#35a06e" font-size="13" text-anchor="middle" font-weight="normal" transform="rotate(90 1256.5 310.7)">D2</text>
<line x1="1256.6" y1="291.7" x2="1256.6" y2="327.4" stroke="#35a06e" stroke-width="1.5"/>
<line x1="1253.8" y1="291.7" x2="1253.8" y2="327.4" stroke="#8d25ad" stroke-width="1.6"/>
<rect x="1387.4" y="183.1" width="30.5" height="275.2" fill="none" stroke="#eb7b7b" stroke-width="2"/>
<line x1="1416.7" y1="63.0" x2="1416.7" y2="245.0" stroke="#8e8e8e" stroke-width="1.2"/>
<line x1="1416.7" y1="277.0" x2="1416.7" y2="458.3" stroke="#8e8e8e" stroke-width="1.2"/>
<line x1="1416.7" y1="62.9" x2="1425.7" y2="62.9" stroke="#8e8e8e" stroke-width="1.2"/>
<text x="1420.2" y="260.7" fill="#8e8e8e" font-size="13" text-anchor="middle" font-weight="normal" transform="rotate(-90 1420.2 260.7)">9.76</text>
<text x="1402.3" y="321.4" fill="#eb7b7b" font-size="13" text-anchor="middle" font-weight="normal" transform="rotate(-90 1402.3 321.4)">ARCH.PROJ.</text>
<text x="1415.7" y="321.4" fill="#111111" font-size="14" text-anchor="middle" font-weight="normal" transform="rotate(-90 1415.7 321.4)">0.75x6.79</text>
<text x="1391.7" y="226.2" fill="#35a06e" font-size="13" text-anchor="middle" font-weight="normal" transform="rotate(90 1391.7 226.2)">W1</text>
<text x="1397.5" y="394.0" fill="#35a06e" font-size="14" text-anchor="middle" font-weight="normal" letter-spacing="1.4">W-H:1.5</text>
<line x1="1385.3" y1="203.6" x2="1385.3" y2="252.4" stroke="#5a9f86" stroke-width="1.7"/>
<line x1="1383.7" y1="203.6" x2="1383.7" y2="252.4" stroke="#8489c6" stroke-width="1.7"/>
<line x1="1385.3" y1="294.0" x2="1385.3" y2="319.0" stroke="#5a9f86" stroke-width="1.7"/>
<line x1="1383.7" y1="294.0" x2="1383.7" y2="319.0" stroke="#8489c6" stroke-width="1.7"/>
<line x1="1385.3" y1="352.4" x2="1385.3" y2="419.0" stroke="#5a9f86" stroke-width="1.7"/>
<line x1="1383.7" y1="352.4" x2="1383.7" y2="419.0" stroke="#8489c6" stroke-width="1.7"/>
<polygon points="1171.4,330.5 1382.6,330.5 1382.6,446.9 1182.1,446.9 1182.1,382.1 1171.4,382.1" fill="none" stroke="#ad7fe0" stroke-width="1.5" stroke-linejoin="miter"/>
<text x="1271.0" y="362.4" fill="#b996e6" font-size="8.7" text-anchor="middle" font-weight="normal">FLAT-CARPET-42</text>
<text x="1271.0" y="372.6" fill="#b996e6" font-size="8.7" text-anchor="middle" font-weight="normal">CarpetArea=43.66</text>
<text x="1276.2" y="388.6" fill="#a71bc9" font-size="14" text-anchor="middle" font-weight="normal">LIVING</text>
<text x="1276.2" y="407.1" fill="#111111" font-size="14" text-anchor="middle" font-weight="normal">5.20x2.85</text>
<rect x="1135.7" y="330.5" width="32.2" height="51.6" fill="none" stroke="#bd30c4" stroke-width="1.5"/>
<line x1="1138.0" y1="333.0" x2="1165.0" y2="379.0" stroke="#e6d2f0" stroke-width="0.8"/>
<line x1="1165.0" y1="333.0" x2="1138.0" y2="379.0" stroke="#e6d2f0" stroke-width="0.8"/>
<text x="1153.6" y="356.0" fill="#a71bc9" font-size="13" text-anchor="middle" font-weight="normal">VOID2</text>
<text x="1151.2" y="368.6" fill="#111111" font-size="14" text-anchor="middle" font-weight="normal">0.77x1.25</text>
<text x="1182.0" y="414.3" fill="#35a06e" font-size="13" text-anchor="middle" font-weight="normal" transform="rotate(-90 1182.0 414.3)">D1</text>
<line x1="1181.0" y1="395.0" x2="1181.0" y2="438.0" stroke="#35a06e" stroke-width="1.5"/>
<line x1="1179.8" y1="385.6" x2="1179.8" y2="447.1" stroke="#cc8590" stroke-width="1.5"/>
<line x1="337.0" y1="385.6" x2="337.0" y2="447.1" stroke="#cc8590" stroke-width="1.5"/>
<line x1="1417.0" y1="458.3" x2="1425.7" y2="458.3" stroke="#8e8e8e" stroke-width="1.2"/>
<line x1="1417.0" y1="562.6" x2="1425.7" y2="562.6" stroke="#8e8e8e" stroke-width="1.2"/>
<text x="1347.0" y="514.0" fill="#35a06e" font-size="13" text-anchor="middle" font-weight="normal">W1</text>
<rect x="1338.1" y="458.3" width="30.9" height="104.3" fill="none" stroke="#eb7b7b" stroke-width="2"/>
<text x="1353.5" y="510.7" fill="#eb7b7b" font-size="13" text-anchor="middle" font-weight="normal" transform="rotate(-90 1353.5 510.7)">ARCH.PROJ.</text>
<text x="1367.0" y="510.7" fill="#111111" font-size="14" text-anchor="middle" font-weight="normal" transform="rotate(-90 1367.0 510.7)">0.75x2.54</text>
<line x1="1416.7" y1="458.3" x2="1416.7" y2="492.0" stroke="#8e8e8e" stroke-width="1.2"/>
<line x1="1416.7" y1="530.0" x2="1416.7" y2="562.6" stroke="#8e8e8e" stroke-width="1.2"/>
<text x="1420.9" y="510.7" fill="#8e8e8e" font-size="13" text-anchor="middle" font-weight="normal" transform="rotate(-90 1420.9 510.7)">2.54</text>
<line x1="1337.0" y1="474.3" x2="1337.0" y2="546.4" stroke="#5a9f86" stroke-width="1.7"/>
<line x1="1335.4" y1="474.3" x2="1335.4" y2="546.4" stroke="#8489c6" stroke-width="1.7"/>
<polygon points="1136.9,451.2 1330.5,451.2 1330.5,458.3 1333.3,458.3 1333.3,561.9 1290.5,561.9 1290.5,570.2 1136.9,570.2" fill="none" stroke="#ad7fe0" stroke-width="1.5" stroke-linejoin="miter"/>
<line x1="1136.9" y1="451.2" x2="1178.6" y2="451.2" stroke="#8d25ad" stroke-width="2"/>
<text x="1157.9" y="463.8" fill="#35a06e" font-size="13" text-anchor="middle" font-weight="normal">D1</text>
<text x="1233.3" y="484.5" fill="#b996e6" font-size="8.7" text-anchor="middle" font-weight="normal">FLAT-CARPET-43</text>
<text x="1233.3" y="494.5" fill="#b996e6" font-size="8.7" text-anchor="middle" font-weight="normal">CarpetArea=44.06</text>
<text x="1235.0" y="509.8" fill="#a71bc9" font-size="14" text-anchor="middle" font-weight="normal">LIVING</text>
<text x="1235.0" y="528.3" fill="#111111" font-size="14" text-anchor="middle" font-weight="normal">4.85x2.95</text>
<rect x="1294.8" y="574.5" width="87.8" height="47.9" fill="none" stroke="#ad7fe0" stroke-width="1.5"/>
<text x="1338.1" y="597.0" fill="#a71bc9" font-size="14" text-anchor="middle" font-weight="normal">TOILET</text>
<text x="1338.1" y="615.5" fill="#111111" font-size="14" text-anchor="middle" font-weight="normal">2.16x1.20</text>
<rect x="1136.8" y="574.5" width="113.8" height="128.1" fill="none" stroke="#ad7fe0" stroke-width="1.5"/>
<text x="1194.1" y="639.4" fill="#a71bc9" font-size="14" text-anchor="middle" font-weight="normal">BED ROOM</text>
<text x="1194.1" y="657.9" fill="#111111" font-size="14" text-anchor="middle" font-weight="normal">2.80x3.18</text>
<text x="1253.0" y="590.5" fill="#35a06e" font-size="13" text-anchor="middle" font-weight="normal" transform="rotate(90 1253.0 590.5)">D2</text>
<line x1="1254.0" y1="574.0" x2="1254.0" y2="609.5" stroke="#35a06e" stroke-width="1.5"/>
<line x1="1251.5" y1="574.0" x2="1251.5" y2="609.5" stroke="#8d25ad" stroke-width="1.6"/>
<line x1="1254.3" y1="570.2" x2="1254.3" y2="817.0" stroke="#ad7fe0" stroke-width="1.5"/>
<line x1="1290.4" y1="570.2" x2="1290.4" y2="627.4" stroke="#ad7fe0" stroke-width="1.5"/>
<line x1="1290.4" y1="627.4" x2="1290.4" y2="701.6" stroke="#8d25ad" stroke-width="1.8"/>
<line x1="1272.6" y1="574.5" x2="1272.6" y2="701.6" stroke="#8e8e8e" stroke-width="1.2"/>
<line x1="1254.3" y1="574.5" x2="1290.4" y2="574.5" stroke="#8e8e8e" stroke-width="1.2"/>
<line x1="1254.3" y1="571.0" x2="1290.5" y2="571.0" stroke="#8d25ad" stroke-width="2"/>
<text x="1283.4" y="637.4" fill="#8e8e8e" font-size="13.8" text-anchor="middle" font-weight="normal" transform="rotate(-90 1283.4 637.4)">PASS</text>
<text x="1292.8" y="588.1" fill="#35a06e" font-size="13" text-anchor="middle" font-weight="normal" transform="rotate(-90 1292.8 588.1)">D3</text>
<line x1="1292.4" y1="575.0" x2="1292.4" y2="604.0" stroke="#35a06e" stroke-width="1.5"/>
<text x="1401.0" y="586.9" fill="#35a06e" font-size="13" text-anchor="middle" font-weight="normal" transform="rotate(-90 1401.0 586.9)">V</text>
<line x1="1385.3" y1="575.0" x2="1385.3" y2="598.8" stroke="#5a9f86" stroke-width="1.7"/>
<line x1="1383.7" y1="575.0" x2="1383.7" y2="598.8" stroke="#8489c6" stroke-width="1.7"/>
<line x1="1385.3" y1="639.9" x2="1385.3" y2="689.2" stroke="#5a9f86" stroke-width="1.7"/>
<line x1="1383.7" y1="639.9" x2="1383.7" y2="689.2" stroke="#8489c6" stroke-width="1.7"/>
<line x1="1385.3" y1="725.0" x2="1385.3" y2="798.0" stroke="#5a9f86" stroke-width="1.7"/>
<line x1="1383.7" y1="725.0" x2="1383.7" y2="798.0" stroke="#8489c6" stroke-width="1.7"/>
<rect x="1291.7" y="627.4" width="90.3" height="74.2" fill="none" stroke="#ad7fe0" stroke-width="1.5"/>
<text x="1336.0" y="663.5" fill="#a71bc9" font-size="14" text-anchor="middle" font-weight="normal">KITCHEN</text>
<text x="1336.0" y="682.0" fill="#111111" font-size="14" text-anchor="middle" font-weight="normal">2.25x1.85</text>
<rect x="1254.3" y="705.1" width="127.7" height="111.5" fill="none" stroke="#ad7fe0" stroke-width="1.5"/>
<text x="1317.8" y="760.6" fill="#a71bc9" font-size="14" text-anchor="middle" font-weight="normal">BED ROOM</text>
<text x="1317.8" y="779.1" fill="#111111" font-size="14" text-anchor="middle" font-weight="normal">3.15x2.75</text>
<line x1="1254.3" y1="701.8" x2="1290.4" y2="701.8" stroke="#35a06e" stroke-width="1.5"/>
<line x1="1254.3" y1="704.6" x2="1290.4" y2="704.6" stroke="#8d25ad" stroke-width="1.6"/>
<text x="1272.5" y="717.5" fill="#35a06e" font-size="13" text-anchor="middle" font-weight="normal">D2</text>
<rect x="1201.6" y="707.6" width="48.5" height="80.4" fill="none" stroke="#ad7fe0" stroke-width="1.5"/>
<text x="1227.0" y="746.4" fill="#a71bc9" font-size="14" text-anchor="middle" font-weight="normal">TOI</text>
<text x="1227.0" y="764.9" fill="#111111" font-size="14" text-anchor="middle" font-weight="normal">1.2x2.0</text>
<line x1="1219.5" y1="706.0" x2="1250.0" y2="706.0" stroke="#8d25ad" stroke-width="2"/>
<text x="1236.9" y="705.1" fill="#35a06e" font-size="13" text-anchor="middle" font-weight="normal">D3</text>
<line x1="1136.8" y1="705.4" x2="1197.1" y2="705.4" stroke="#5a9f86" stroke-width="1.7"/>
<line x1="1136.8" y1="703.6" x2="1197.1" y2="703.6" stroke="#8489c6" stroke-width="1.7"/>
<line x1="1224.5" y1="790.9" x2="1249.4" y2="790.9" stroke="#5a9f86" stroke-width="1.7"/>
<line x1="1224.5" y1="789.1" x2="1249.4" y2="789.1" stroke="#8489c6" stroke-width="1.7"/>
<rect x="1124.4" y="708.3" width="72.2" height="29.9" fill="none" stroke="#eb7b7b" stroke-width="2"/>
<text x="1166.6" y="719.6" fill="#35a06e" font-size="14" text-anchor="middle" font-weight="normal">W3-H:1.5</text>
<text x="1161.0" y="720.8" fill="#eb7b7b" font-size="13" text-anchor="middle" font-weight="normal">ARCH.PROJ.</text>
<text x="1161.0" y="733.2" fill="#111111" font-size="14" text-anchor="middle" font-weight="normal">1.77x0.75</text>
<line x1="1196.6" y1="794.2" x2="1196.6" y2="829.1" stroke="#8e8e8e" stroke-width="1.2"/>
<line x1="1196.6" y1="829.1" x2="1248.9" y2="829.1" stroke="#8e8e8e" stroke-width="1.2"/>
<text x="1236.9" y="805.4" fill="#35a06e" font-size="14" text-anchor="middle" font-weight="normal">V</text>
<text x="1228.2" y="817.9" fill="#8e8e8e" font-size="14" text-anchor="middle" font-weight="normal">DUCT</text>
<rect x="1386.3" y="562.6" width="29.4" height="266.5" fill="none" stroke="#eb7b7b" stroke-width="2"/>
<line x1="1416.7" y1="562.6" x2="1416.7" y2="676.0" stroke="#8e8e8e" stroke-width="1.2"/>
<line x1="1416.7" y1="712.0" x2="1416.7" y2="829.1" stroke="#8e8e8e" stroke-width="1.2"/>
<line x1="1386.0" y1="829.1" x2="1426.1" y2="829.1" stroke="#8e8e8e" stroke-width="1.2"/>
<text x="1402.2" y="695.9" fill="#eb7b7b" font-size="13" text-anchor="middle" font-weight="normal" transform="rotate(-90 1402.2 695.9)">ARCH.PROJ.</text>
<text x="1415.0" y="695.9" fill="#111111" font-size="14" text-anchor="middle" font-weight="normal" transform="rotate(-90 1415.0 695.9)">0.75x6.58</text>
<text x="1421.2" y="694.6" fill="#8e8e8e" font-size="13" text-anchor="middle" font-weight="normal" transform="rotate(-90 1421.2 694.6)">8.58</text>
<text x="1392.3" y="662.3" fill="#35a06e" font-size="13" text-anchor="middle" font-weight="normal" transform="rotate(90 1392.3 662.3)">W1</text>
<text transform="translate(1396.7 761.9) scale(-1 1) rotate(90)" x="0" y="4.7" fill="#35a06e" font-size="13" text-anchor="middle">w-H:1.5</text>
<line x1="905.7" y1="447.1" x2="984.2" y2="447.1" stroke="#ffffff" stroke-width="2.5"/>
<polyline points="905.7,447.1 905.7,458.8 984.2,458.8 984.2,447.1" fill="none" stroke="#cc8590" stroke-width="1.5" stroke-linejoin="miter"/>
<line x1="745.0" y1="447.1" x2="745.0" y2="451.0" stroke="#35a06e" stroke-width="1.2"/>
<line x1="997.0" y1="447.1" x2="997.0" y2="451.0" stroke="#35a06e" stroke-width="1.2"/>
<line x1="1045.0" y1="447.1" x2="1045.0" y2="451.0" stroke="#35a06e" stroke-width="1.2"/>
<line x1="920.5" y1="458.8" x2="920.5" y2="463.0" stroke="#35a06e" stroke-width="1.2"/>
<line x1="968.6" y1="458.8" x2="968.6" y2="463.0" stroke="#35a06e" stroke-width="1.2"/>
<line x1="920.5" y1="460.5" x2="968.6" y2="460.5" stroke="#9bbfae" stroke-width="1"/>
<rect x="384.3" y="538.6" width="61.0" height="25.9" fill="none" stroke="#3de6c6" stroke-width="1.5"/>
<text x="421.4" y="550.3" fill="#35a06e" font-size="13" text-anchor="middle" font-weight="normal">D0</text>
<line x1="390.8" y1="564.5" x2="390.8" y2="704.3" stroke="#3de6c6" stroke-width="1.5"/>
<line x1="445.3" y1="542.5" x2="544.0" y2="542.5" stroke="#3de6c6" stroke-width="1.5"/>
<line x1="544.0" y1="542.5" x2="544.0" y2="704.3" stroke="#3de6c6" stroke-width="1.5"/>
<line x1="390.8" y1="704.3" x2="544.0" y2="704.3" stroke="#3de6c6" stroke-width="1.5"/>
<line x1="452.6" y1="542.5" x2="452.6" y2="704.3" stroke="#3de6c6" stroke-width="1.5"/>
<line x1="463.0" y1="542.5" x2="463.0" y2="704.3" stroke="#3de6c6" stroke-width="1.5"/>
<line x1="473.4" y1="542.5" x2="473.4" y2="704.3" stroke="#3de6c6" stroke-width="1.5"/>
<line x1="483.5" y1="542.5" x2="483.5" y2="704.3" stroke="#3de6c6" stroke-width="1.5"/>
<line x1="390.8" y1="603.0" x2="544.0" y2="603.0" stroke="#3de6c6" stroke-width="1.5"/>
<line x1="390.8" y1="613.4" x2="544.0" y2="613.4" stroke="#3de6c6" stroke-width="1.5"/>
<line x1="390.8" y1="623.8" x2="544.0" y2="623.8" stroke="#3de6c6" stroke-width="1.5"/>
<line x1="390.8" y1="634.2" x2="544.0" y2="634.2" stroke="#3de6c6" stroke-width="1.5"/>
<line x1="390.8" y1="644.5" x2="544.0" y2="644.5" stroke="#3de6c6" stroke-width="1.5"/>
<line x1="390.8" y1="571.0" x2="404.0" y2="571.0" stroke="#8e8e8e" stroke-width="1.2"/>
<line x1="425.0" y1="571.0" x2="445.0" y2="571.0" stroke="#8e8e8e" stroke-width="1.2"/>
<line x1="470.0" y1="571.0" x2="484.0" y2="571.0" stroke="#8e8e8e" stroke-width="1.2"/>
<line x1="510.0" y1="571.0" x2="544.0" y2="571.0" stroke="#8e8e8e" stroke-width="1.2"/>
<line x1="390.8" y1="676.2" x2="452.0" y2="676.2" stroke="#8e8e8e" stroke-width="1.2"/>
<line x1="484.0" y1="676.2" x2="544.0" y2="676.2" stroke="#8e8e8e" stroke-width="1.2"/>
<line x1="420.6" y1="565.0" x2="420.6" y2="578.0" stroke="#8e8e8e" stroke-width="1.2"/>
<line x1="384.6" y1="565.0" x2="384.6" y2="580.0" stroke="#8e8e8e" stroke-width="1.2"/>
<line x1="445.3" y1="565.0" x2="445.3" y2="580.0" stroke="#8e8e8e" stroke-width="1.2"/>
<line x1="420.6" y1="655.0" x2="420.6" y2="704.3" stroke="#8e8e8e" stroke-width="1.2"/>
<line x1="515.5" y1="542.5" x2="515.5" y2="605.0" stroke="#8e8e8e" stroke-width="1.2"/>
<line x1="515.5" y1="642.0" x2="515.5" y2="704.3" stroke="#8e8e8e" stroke-width="1.2"/>
<line x1="384.3" y1="565.8" x2="445.3" y2="565.8" stroke="#8e8e8e" stroke-width="1.2"/>
<text x="414.2" y="571.0" fill="#8e8e8e" font-size="13" text-anchor="middle" font-weight="normal">1.50</text>
<text x="496.0" y="574.9" fill="#8e8e8e" font-size="13" text-anchor="middle" font-weight="normal">2.42</text>
<text x="467.4" y="681.4" fill="#8e8e8e" font-size="13" text-anchor="middle" font-weight="normal">3.75</text>
<text x="521.5" y="623.0" fill="#8e8e8e" font-size="13" text-anchor="middle" font-weight="normal" transform="rotate(-90 521.5 623.0)">4.00</text>
<text x="425.0" y="637.3" fill="#8e8e8e" font-size="13" text-anchor="middle" font-weight="normal" transform="rotate(-90 425.0 637.3)">2.46</text>
<text x="436.2" y="578.8" fill="#3de6c6" font-size="13" text-anchor="middle" font-weight="normal">UP</text>
<text x="418.5" y="588.0" fill="#3de6c6" font-size="13" text-anchor="middle" font-weight="normal" transform="rotate(90 418.5 588.0)">DN</text>
<line x1="420.6" y1="598.0" x2="420.6" y2="636.0" stroke="#3de6c6" stroke-width="1.5"/>
<polygon points="417,634 424.2,634 420.6,648" fill="#3de6c6"/>
<line x1="446.0" y1="574.9" x2="488.0" y2="574.9" stroke="#3de6c6" stroke-width="1.5"/>
<polygon points="486,571.5 486,578.3 500,574.9" fill="#3de6c6"/>
<text x="474.8" y="621.7" fill="#3de6c6" font-size="13" text-anchor="middle" font-weight="normal" transform="rotate(-90 474.8 621.7)">FIRE STAIRCASE</text>
<rect x="452.6" y="603.5" width="30.9" height="41.0" fill="none" stroke="#000" stroke-width="1.6"/>
<rect x="455.7" y="607.4" width="23.9" height="32.5" fill="none" stroke="#bd30c4" stroke-width="1.4"/>
<text x="470.0" y="623.0" fill="#a71bc9" font-size="13" text-anchor="middle" font-weight="normal">VO!D4</text>
<text x="468.2" y="636.0" fill="#111111" font-size="14" text-anchor="middle" font-weight="normal">0.55x0.80</text>
<line x1="431.0" y1="707.0" x2="504.5" y2="707.0" stroke="#5a9f86" stroke-width="1.7"/>
<line x1="431.0" y1="705.2" x2="504.5" y2="705.2" stroke="#8489c6" stroke-width="1.7"/>
<rect x="425.1" y="710.0" width="85.2" height="29.9" fill="none" stroke="#eb7b7b" stroke-width="2"/>
<text x="467.4" y="722" fill="#35a06e" font-size="13" text-anchor="middle" transform="translate(934.8 0) scale(-1 1)">w-H:1.5</text>
<text x="467.4" y="724.3" fill="#eb7b7b" font-size="13" text-anchor="middle" font-weight="normal">CHHAJJA</text>
<text x="468.2" y="737.3" fill="#111111" font-size="14" text-anchor="middle" font-weight="normal">2.10x0.75</text>
<rect x="556.5" y="542.5" width="51.2" height="46.2" fill="none" stroke="#bd30c4" stroke-width="1.5"/>
<line x1="559.0" y1="545.0" x2="605.0" y2="586.0" stroke="#e6d2f0" stroke-width="0.8"/>
<line x1="605.0" y1="545.0" x2="559.0" y2="586.0" stroke="#e6d2f0" stroke-width="0.8"/>
<text x="584.3" y="565.8" fill="#a71bc9" font-size="13" text-anchor="middle" font-weight="normal">VO!D1</text>
<text x="581.7" y="578.1" fill="#111111" font-size="14" text-anchor="middle" font-weight="normal">1.27x1.15</text>
<rect x="556.5" y="593.1" width="51.2" height="81.1" fill="none" stroke="#ad7fe0" stroke-width="1.5"/>
<text x="581.7" y="633.4" fill="#a71bc9" font-size="14" text-anchor="middle" font-weight="normal">TOILET</text>
<text x="581.7" y="650.3" fill="#111111" font-size="14" text-anchor="middle" font-weight="normal">1.27x2.0</text>
<text x="609.8" y="657.0" fill="#35a06e" font-size="13" text-anchor="middle" font-weight="normal" transform="rotate(-90 609.8 657.0)">D3</text>
<line x1="609.6" y1="643.0" x2="609.6" y2="666.0" stroke="#8d25ad" stroke-width="1.6"/>
<rect x="611.6" y="543.2" width="109.0" height="131.0" fill="none" stroke="#ad7fe0" stroke-width="1.5"/>
<text x="666.1" y="608.2" fill="#a71bc9" font-size="14" text-anchor="middle" font-weight="normal">BED ROOM</text>
<text x="666.1" y="626.7" fill="#111111" font-size="14" text-anchor="middle" font-weight="normal">2.70x3.24</text>
<line x1="583.0" y1="677.1" x2="607.7" y2="677.1" stroke="#5a9f86" stroke-width="1.7"/>
<line x1="583.0" y1="675.4" x2="607.7" y2="675.4" stroke="#8489c6" stroke-width="1.7"/>
<line x1="628.4" y1="677.1" x2="701.2" y2="677.1" stroke="#5a9f86" stroke-width="1.7"/>
<line x1="628.4" y1="675.4" x2="701.2" y2="675.4" stroke="#8489c6" stroke-width="1.7"/>
<line x1="748.0" y1="677.1" x2="773.2" y2="677.1" stroke="#5a9f86" stroke-width="1.7"/>
<line x1="748.0" y1="675.4" x2="773.2" y2="675.4" stroke="#8489c6" stroke-width="1.7"/>
<rect x="720.8" y="545.1" width="62.3" height="40.2" fill="none" stroke="#ad7fe0" stroke-width="1.5"/>
<line x1="724.0" y1="564.6" x2="783.0" y2="564.6" stroke="#8e8e8e" stroke-width="1.2"/>
<text x="752.4" y="574.6" fill="#8e8e8e" font-size="13.8" text-anchor="middle" font-weight="normal">PASS.</text>
<line x1="721.6" y1="545.0" x2="721.6" y2="580.0" stroke="#8d25ad" stroke-width="1.6"/>
<line x1="783.0" y1="545.0" x2="783.0" y2="580.0" stroke="#8d25ad" stroke-width="1.6"/>
<line x1="743.0" y1="588.0" x2="772.7" y2="588.0" stroke="#8d25ad" stroke-width="1.6"/>
<text x="760.3" y="586.6" fill="#35a06e" font-size="13" text-anchor="middle" font-weight="normal">D3</text>
<line x1="744.2" y1="585.2" x2="772.7" y2="585.2" stroke="#35a06e" stroke-width="1.5"/>
<text x="723.4" y="560.6" fill="#35a06e" font-size="13" text-anchor="middle" font-weight="normal" transform="rotate(90 723.4 560.6)">D2</text>
<line x1="724.7" y1="545.0" x2="724.7" y2="580.0" stroke="#35a06e" stroke-width="1.5"/>
<rect x="724.7" y="589.2" width="48.0" height="85.0" fill="none" stroke="#ad7fe0" stroke-width="1.5"/>
<text x="749.9" y="630.0" fill="#a71bc9" font-size="14" text-anchor="middle" font-weight="normal">TOI</text>
<text x="749.9" y="649.0" fill="#111111" font-size="14" text-anchor="middle" font-weight="normal">1.2x2.11</text>
<rect x="784.4" y="450.5" width="109.1" height="173.8" fill="none" stroke="#ad7fe0" stroke-width="1.5"/>
<line x1="772.7" y1="580.6" x2="784.4" y2="580.6" stroke="#ad7fe0" stroke-width="1.5"/>
<line x1="784.2" y1="450.5" x2="825.7" y2="450.5" stroke="#8d25ad" stroke-width="2"/>
<text x="804.4" y="463.5" fill="#35a06e" font-size="13" text-anchor="middle" font-weight="normal">D1</text>
<text x="835.6" y="513.9" fill="#b996e6" font-size="8.7" text-anchor="middle" font-weight="normal">FLAT-CARPET-44</text>
<text x="835.6" y="523.2" fill="#b996e6" font-size="8.7" text-anchor="middle" font-weight="normal">CarpetArea=38.25</text>
<text x="838.2" y="537.3" fill="#a71bc9" font-size="14" text-anchor="middle" font-weight="normal">LIVING</text>
<text x="838.2" y="555.5" fill="#111111" font-size="14" text-anchor="middle" font-weight="normal">2.70x4.30</text>
<line x1="894.8" y1="580.0" x2="894.8" y2="613.9" stroke="#8d25ad" stroke-width="2"/>
<line x1="804.4" y1="629.1" x2="878.7" y2="629.1" stroke="#5a9f86" stroke-width="1.7"/>
<line x1="804.4" y1="627.4" x2="878.7" y2="627.4" stroke="#8489c6" stroke-width="1.7"/>
<rect x="785.7" y="630.8" width="107.8" height="29.8" fill="none" stroke="#eb7b7b" stroke-width="2"/>
<text x="838" y="643" fill="#35a06e" font-size="13" text-anchor="middle" transform="translate(1676 0) scale(-1 1)">w-H:1.5</text>
<text x="840.3" y="645.1" fill="#eb7b7b" font-size="13" text-anchor="middle" font-weight="normal">ARCH.PROJ.</text>
<text x="839.5" y="658.0" fill="#111111" font-size="14" text-anchor="middle" font-weight="normal">2.65x0.75</text>
<rect x="555.7" y="678.8" width="230.0" height="30.7" fill="none" stroke="#eb7b7b" stroke-width="2"/>
<text x="594.7" y="691.3" fill="#35a06e" font-size="14" text-anchor="middle" font-weight="normal">V</text>
<text x="761.6" y="690.5" fill="#35a06e" font-size="14" text-anchor="middle" font-weight="normal">V</text>
<text x="672" y="692" fill="#35a06e" font-size="13" text-anchor="middle" transform="translate(1344 0) scale(-1 1)">w-H:1.5</text>
<text x="671.3" y="694.4" fill="#eb7b7b" font-size="13" text-anchor="middle" font-weight="normal">ARCH.PROJ.</text>
<text x="670.8" y="706.1" fill="#111111" font-size="14" text-anchor="middle" font-weight="normal">5.65x0.75</text>
<line x1="893.5" y1="660.6" x2="996.9" y2="660.6" stroke="#eb7b7b" stroke-width="1.8"/>
<rect x="893.5" y="662.0" width="103.4" height="28.5" fill="none" stroke="#eb7b7b" stroke-width="2"/>
<text x="940.0" y="672.0" fill="#35a06e" font-size="13" text-anchor="middle" font-weight="normal">W1</text>
<text x="945.5" y="676.2" fill="#eb7b7b" font-size="13" text-anchor="middle" font-weight="normal">ARCH.PROJ.</text>
<text x="945.5" y="688.7" fill="#111111" font-size="14" text-anchor="middle" font-weight="normal">2.55x0.75</text>
<rect x="896.1" y="578.8" width="88.3" height="77.2" fill="none" stroke="#ad7fe0" stroke-width="1.5"/>
<text x="940.3" y="616.5" fill="#a71bc9" font-size="14" text-anchor="middle" font-weight="normal">KITCHEN</text>
<text x="940.3" y="635.0" fill="#111111" font-size="14" text-anchor="middle" font-weight="normal">2.16x1.90</text>
<line x1="916.1" y1="658.4" x2="965.5" y2="658.4" stroke="#5a9f86" stroke-width="1.7"/>
<line x1="916.1" y1="656.6" x2="965.5" y2="656.6" stroke="#8489c6" stroke-width="1.7"/>
<rect x="905.2" y="464.5" width="79.2" height="108.6" fill="none" stroke="#bd30c4" stroke-width="1.5"/>
<text x="945.2" y="475.7" fill="#35a06e" font-size="13" text-anchor="middle" font-weight="normal">D</text>
<text x="945.6" y="520.0" fill="#bd30c4" font-size="13" text-anchor="middle" font-weight="normal" transform="rotate(-90 945.6 520.0)">LIFT3</text>
<text x="958.5" y="519.0" fill="#111111" font-size="14" text-anchor="middle" font-weight="normal" transform="rotate(-90 958.5 519.0)">1.95x2.70</text>
<rect x="996.9" y="450.7" width="128.0" height="203.8" fill="none" stroke="#3de6c6" stroke-width="1.5"/>
<line x1="996.9" y1="512.6" x2="1124.9" y2="512.6" stroke="#3de6c6" stroke-width="1.5"/>
<line x1="996.9" y1="522.2" x2="1124.9" y2="522.2" stroke="#3de6c6" stroke-width="1.5"/>
<line x1="996.9" y1="532.3" x2="1124.9" y2="532.3" stroke="#3de6c6" stroke-width="1.5"/>
<line x1="996.9" y1="542.2" x2="1124.9" y2="542.2" stroke="#3de6c6" stroke-width="1.5"/>
<line x1="996.9" y1="552.6" x2="1124.9" y2="552.6" stroke="#3de6c6" stroke-width="1.5"/>
<line x1="996.9" y1="562.4" x2="1124.9" y2="562.4" stroke="#3de6c6" stroke-width="1.5"/>
<line x1="996.9" y1="572.3" x2="1124.9" y2="572.3" stroke="#3de6c6" stroke-width="1.5"/>
<line x1="996.9" y1="582.1" x2="1124.9" y2="582.1" stroke="#3de6c6" stroke-width="1.5"/>
<line x1="996.9" y1="592.5" x2="1124.9" y2="592.5" stroke="#3de6c6" stroke-width="1.5"/>
<rect x="1058" y="511.8" width="5.9" height="81.6" rx="2" fill="#fff" stroke="#000" stroke-width="1.6"/>
<line x1="1025.0" y1="451.3" x2="1025.0" y2="538.0" stroke="#8e8e8e" stroke-width="1.2"/>
<line x1="1025.0" y1="567.0" x2="1025.0" y2="655.3" stroke="#8e8e8e" stroke-width="1.2"/>
<text x="1020.3" y="552.6" fill="#8e8e8e" font-size="13" text-anchor="middle" font-weight="normal" transform="rotate(90 1020.3 552.6)">5.00</text>
<line x1="996.9" y1="625.8" x2="1045.0" y2="625.8" stroke="#8e8e8e" stroke-width="1.2"/>
<line x1="1075.0" y1="625.8" x2="1124.9" y2="625.8" stroke="#8e8e8e" stroke-width="1.2"/>
<text x="1060.2" y="630.0" fill="#8e8e8e" font-size="13" text-anchor="middle" font-weight="normal">3.15</text>
<text x="1020.8" y="463.1" fill="#35a06e" font-size="13" text-anchor="middle" font-weight="normal">FRD</text>
<text x="1022.6" y="486.4" fill="#3de6c6" font-size="13" text-anchor="middle" font-weight="normal" transform="rotate(90 1022.6 486.4)">DN</text>
<text x="1090.0" y="486.4" fill="#3de6c6" font-size="13" text-anchor="middle" font-weight="normal" transform="rotate(90 1090.0 486.4)">UP</text>
<line x1="1027.3" y1="496.0" x2="1027.3" y2="530.0" stroke="#3de6c6" stroke-width="1.5"/>
<line x1="1094.8" y1="496.0" x2="1094.8" y2="533.0" stroke="#3de6c6" stroke-width="1.5"/>
<polygon points="1023.5,528 1031,528 1027.3,543" fill="#3de6c6"/>
<polygon points="1091,532 1098.5,532 1094.8,547" fill="#3de6c6"/>
<line x1="996.9" y1="449.3" x2="1045.3" y2="449.3" stroke="#35a06e" stroke-width="1.2"/>
<line x1="1023.6" y1="656.9" x2="1097.6" y2="656.9" stroke="#5a9f86" stroke-width="1.7"/>
<line x1="1023.6" y1="655.1" x2="1097.6" y2="655.1" stroke="#8489c6" stroke-width="1.7"/>
<rect x="1018.0" y="659.0" width="85.8" height="23.6" fill="none" stroke="#eb7b7b" stroke-width="2"/>
<text x="1060.2" y="667" fill="#35a06e" font-size="13" text-anchor="middle" transform="translate(2120.4 0) scale(-1 1)">w-H:1.5</text>
<text x="1060.2" y="669.4" fill="#eb7b7b" font-size="13" text-anchor="middle" font-weight="normal">CHHAJJA</text>
<text x="1060.2" y="682.1" fill="#111111" font-size="14" text-anchor="middle" font-weight="normal">2.10x0.60</text>
<rect x="705.1" y="408.1" width="108.9" height="26.6" fill="#000"/>
<text transform="translate(711.6 428.6) scale(0.77 1)" fill="#fff" font-size="22.4" font-weight="bold" letter-spacing="4.1">BLOCK-A</text>
<line x1="728" y1="435.5" x2="791" y2="435.5" stroke="#333" stroke-width="1.1" stroke-dasharray="4 2 3 2"/>
<circle cx="292.9" cy="384.3" r="17.6" fill="#fe0000"/>
<path transform="translate(292.9 384.3)" d="M2.7,-12.4 L2.7,12.3 L-2.5,12.3 L-2.5,-4.3 L-6.4,-2.6 L-7.2,-6.5 L-0.5,-12.4 Z" fill="#fff"/>
<circle cx="452.0" cy="343.8" r="17.6" fill="#fe0000"/>
<text x="452.0" y="356.2" fill="#fff" font-size="34.5" font-weight="bold" text-anchor="middle">2</text>
<circle cx="874.3" cy="193.0" r="17.6" fill="#fe0000"/>
<text x="874.3" y="205.4" fill="#fff" font-size="34.5" font-weight="bold" text-anchor="middle">3</text>
<circle cx="1204.0" cy="265.5" r="17.6" fill="#fe0000"/>
<text x="1204.0" y="277.9" fill="#fff" font-size="34.5" font-weight="bold" text-anchor="middle">4</text>
<circle cx="1242.9" cy="504.8" r="17.6" fill="#fe0000"/>
<text x="1242.9" y="517.2" fill="#fff" font-size="34.5" font-weight="bold" text-anchor="middle">5</text>
<circle cx="838.2" cy="522.5" r="17.6" fill="#fe0000"/>
<text x="838.2" y="534.9" fill="#fff" font-size="34.5" font-weight="bold" text-anchor="middle">6</text>
<circle cx="281.4" cy="503.8" r="17.6" fill="#fe0000"/>
<text x="281.4" y="516.2" fill="#fff" font-size="34.5" font-weight="bold" text-anchor="middle">7</text>
</svg>
<div id="disc">
<p style="top:17px"><b style="-webkit-text-stroke:0.5px #141414">Disclaimer:</b> The tower names/numbers and unit numbers mentioned for each tower are not the original designations;</p>
<p style="top:37.5px;letter-spacing:2.67px">they have been assigned by <span style="color:#1d1d5e">HuntVastuHomes.com</span> for improved clarity and understanding for users.Original names and numbers may differ.</p>
</div>
</body></html>
